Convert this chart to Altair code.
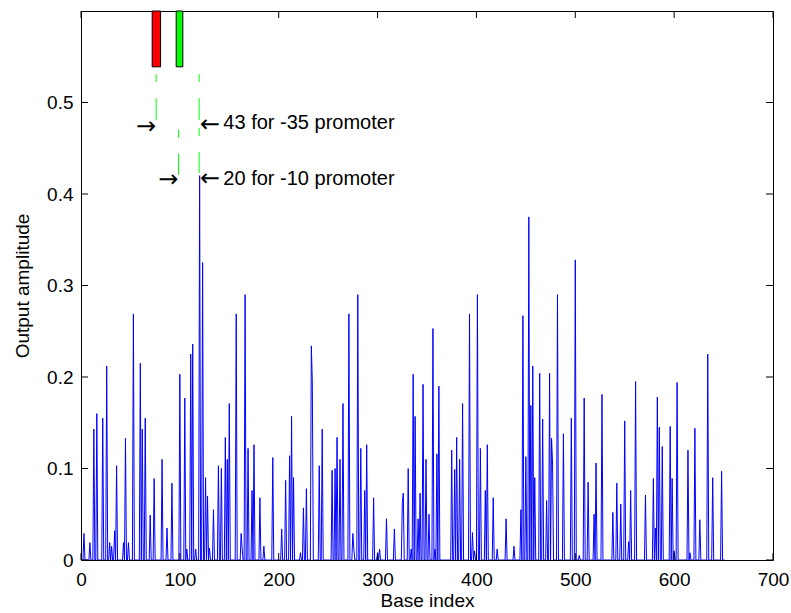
import altair as alt
import pandas as pd

# ---- data (index -> amplitude; all other indices are 0) ----
spike_idx = [3, 9, 13, 16, 22, 26, 29, 31, 34, 36, 43, 45, 48, 53, 60, 62, 65, 70, 74, 82,
             87, 92, 100, 105, 107, 111, 113, 116, 120, 123, 126, 128, 130, 134, 139, 142, 146,
             148, 150, 157, 162, 163, 166, 169, 173, 175, 181, 185, 194, 203, 207, 211, 213, 215,
             222, 225, 228, 233, 234, 241, 244, 254, 257, 259, 262, 265, 271, 275, 276, 280, 283,
             287, 289, 296, 300, 302, 309, 317, 325, 326, 331, 334, 336, 338, 341, 343, 346, 349,
             352, 356, 358, 360, 362, 375, 378, 380, 383, 386, 393, 396, 398, 401, 404, 409, 411,
             417, 421, 430, 438, 445, 447, 450, 453, 455, 457, 459, 464, 467, 471, 474, 476, 477,
             482, 488, 496, 500, 504, 509, 513, 519, 521, 527, 538, 542, 546, 550, 554, 556, 561,
             571, 579, 581, 583, 585, 588, 596, 598, 600, 603, 614, 616, 621, 626, 634, 639, 648]
spike_val = [0.029, 0.019, 0.143, 0.160, 0.155, 0.212, 0.019, 0.015, 0.032, 0.103, 0.019, 0.133,
             0.019, 0.269, 0.215, 0.143, 0.155, 0.049, 0.089, 0.110, 0.035, 0.084, 0.203, 0.177,
             0.012, 0.225, 0.236, 0.012, 0.420, 0.325, 0.090, 0.070, 0.013, 0.055, 0.103, 0.100,
             0.134, 0.110, 0.171, 0.269, 0.029, 0.012, 0.290, 0.122, 0.076, 0.126, 0.068, 0.015,
             0.112, 0.034, 0.087, 0.114, 0.157, 0.090, 0.008, 0.057, 0.078, 0.234, 0.195, 0.103,
             0.143, 0.098, 0.100, 0.134, 0.110, 0.171, 0.269, 0.029, 0.012, 0.290, 0.122, 0.076,
             0.126, 0.068, 0.008, 0.012, 0.045, 0.034, 0.062, 0.073, 0.100, 0.012, 0.203, 0.157,
             0.045, 0.073, 0.192, 0.110, 0.050, 0.253, 0.012, 0.116, 0.190, 0.120, 0.099, 0.134,
             0.110, 0.171, 0.269, 0.030, 0.010, 0.290, 0.122, 0.076, 0.126, 0.068, 0.012, 0.045,
             0.015, 0.055, 0.267, 0.113, 0.375, 0.169, 0.212, 0.090, 0.204, 0.154, 0.065, 0.204,
             0.133, 0.106, 0.290, 0.138, 0.155, 0.328, 0.005, 0.177, 0.085, 0.050, 0.106, 0.181,
             0.052, 0.084, 0.061, 0.152, 0.020, 0.076, 0.195, 0.071, 0.089, 0.035, 0.178, 0.145,
             0.124, 0.146, 0.089, 0.010, 0.194, 0.120, 0.008, 0.144, 0.044, 0.225, 0.090, 0.097]
n_points = 652

x_ticks = [0, 100, 200, 300, 400, 500, 600, 700]
y_ticks = [0, 0.1, 0.2, 0.3, 0.4, 0.5]

# promoter boxes (top of plot)
box_x = [72, 96.3]
box_x2 = [80.5, 103]
box_y = [0.539, 0.539]
box_y2 = [0.6, 0.6]
box_col = ["#ff0000", "#00ff00"]

# dashed green guide lines
guide_x = [76, 119.5, 98.6]
guide_top = [0.531, 0.531, 0.470]
guide_bot = [0.479, 0.423, 0.421]

# annotation arrows and texts
rarrow_x = [76, 98.6]
rarrow_y = [0.4735, 0.415]
larrow_x = [120.3, 120.3]
larrow_y = [0.475, 0.416]
label_x = [144.0, 144.0]
label_y = [0.4705, 0.410]
label_txt = ["43 for -35 promoter", "20 for -10 promoter"]

W, H = 692, 549
FONT = "Liberation Sans"

vals = [0.0] * n_points
for i, v in zip(spike_idx, spike_val):
    vals[i] = v
df = pd.DataFrame({"idx": list(range(n_points)), "amp": vals})

xs = alt.Scale(domain=[0, 700], nice=False, zero=False)
ys = alt.Scale(domain=[0, 0.6], nice=False)

line = alt.Chart(df).mark_line(color="#0000ff", strokeWidth=1, clip=True).encode(
    x=alt.X("idx:Q", scale=xs,
            axis=alt.Axis(values=x_ticks, title="Base index", ticks=False, tickSize=0,
                          domain=False, grid=False, labelPadding=10, labelFontSize=19,
                          labelFont=FONT, labelColor="black", titleFont=FONT,
                          titleFontSize=19, titleFontWeight="normal", titleColor="black",
                          titlePadding=2, labelFlush=False)),
    y=alt.Y("amp:Q", scale=ys,
            axis=alt.Axis(values=y_ticks, title="Output amplitude", ticks=False, tickSize=0,
                          domain=False, grid=False, labelPadding=8, labelFontSize=19,
                          labelFont=FONT, labelColor="black", format=".1~f",
                          titleFont=FONT, titleFontSize=19, titleFontWeight="normal",
                          titleColor="black", titlePadding=14, labelFlush=False)),
)

dfx = pd.DataFrame({"t": x_ticks})
dfy = pd.DataFrame({"t": y_ticks})
TL = 7
xt_bot = alt.Chart(dfx).mark_rule(color="black", strokeWidth=1).encode(
    x=alt.X("t:Q", scale=xs), y=alt.value(H), y2=alt.value(H - TL))
xt_top = alt.Chart(dfx).mark_rule(color="black", strokeWidth=1).encode(
    x=alt.X("t:Q", scale=xs), y=alt.value(0), y2=alt.value(TL))
yt_left = alt.Chart(dfy).mark_rule(color="black", strokeWidth=1).encode(
    y=alt.Y("t:Q", scale=ys), x=alt.value(0), x2=alt.value(TL))
yt_right = alt.Chart(dfy).mark_rule(color="black", strokeWidth=1).encode(
    y=alt.Y("t:Q", scale=ys), x=alt.value(W), x2=alt.value(W - TL))

dfb = pd.DataFrame({"x": box_x, "x2": box_x2, "y": box_y, "y2": box_y2, "c": box_col})
boxes = alt.Chart(dfb).mark_rect(stroke="black", strokeWidth=1).encode(
    x=alt.X("x:Q", scale=xs), x2="x2:Q", y=alt.Y("y:Q", scale=ys), y2="y2:Q",
    fill=alt.Fill("c:N", scale=None))

dfg = pd.DataFrame({"x": guide_x, "y": guide_top, "y2": guide_bot})
guides = alt.Chart(dfg).mark_rule(color="#00ff00", strokeWidth=1, strokeDash=[8, 16, 22, 8]).encode(
    x=alt.X("x:Q", scale=xs), y=alt.Y("y:Q", scale=ys), y2="y2:Q")

dfr = pd.DataFrame({"x": rarrow_x, "y": rarrow_y, "t": ["\u2192", "\u2192"]})
rarrows = alt.Chart(dfr).mark_text(font="DejaVu Sans", fontSize=24, align="right", baseline="middle",
                                   color="black").encode(
    x=alt.X("x:Q", scale=xs), y=alt.Y("y:Q", scale=ys), text="t:N")

dfla = pd.DataFrame({"x": larrow_x, "y": larrow_y, "t": ["\u2190", "\u2190"]})
larrows = alt.Chart(dfla).mark_text(font="DejaVu Sans", fontSize=24, align="left", baseline="middle",
                                    color="black").encode(
    x=alt.X("x:Q", scale=xs), y=alt.Y("y:Q", scale=ys), text="t:N")

dfl = pd.DataFrame({"x": label_x, "y": label_y, "t": label_txt})
labels = alt.Chart(dfl).mark_text(font=FONT, fontSize=20, align="left", baseline="alphabetic",
                                  color="black").encode(
    x=alt.X("x:Q", scale=xs), y=alt.Y("y:Q", scale=ys), text="t:N")

chart = alt.layer(line, xt_bot, xt_top, yt_left, yt_right, guides, boxes,
                  rarrows, larrows, labels).properties(
    width=W, height=H, autosize="none",
    padding={"left": 81, "top": 11, "right": 18, "bottom": 53},
    background="white",
).configure_view(stroke="black", strokeWidth=1)

chart.save("out.html", embed_options={"renderer": "svg", "actions": False})
